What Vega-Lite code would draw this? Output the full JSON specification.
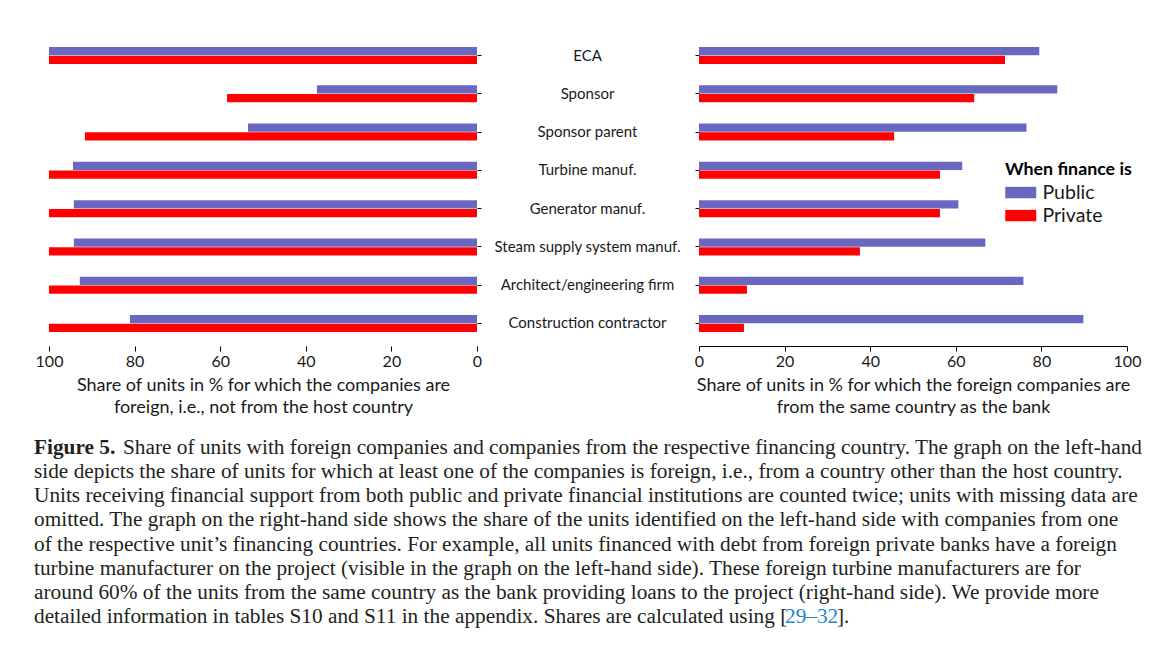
{
  "$schema": "https://vega.github.io/schema/vega-lite/v6.json",
  "padding": {"left": 34, "top": 33, "right": 5, "bottom": 5},
  "background": "white",
  "config": {
    "view": {"stroke": null},
    "font": "Lato",
    "axis": {"labelFont": "Lato", "titleFont": "Lato", "labelColor": "#1a1a1a", "titleColor": "#1a1a1a", "tickColor": "#000", "domainColor": "#000", "grid": false}
  },
  "datasets": {
    "bars": [
      {"role": "ECA", "finance": "Public", "foreign": 100, "same": 79.5},
      {"role": "ECA", "finance": "Private", "foreign": 100, "same": 71.5},
      {"role": "Sponsor", "finance": "Public", "foreign": 37.4, "same": 83.7},
      {"role": "Sponsor", "finance": "Private", "foreign": 58.4, "same": 64.3},
      {"role": "Sponsor parent", "finance": "Public", "foreign": 53.5, "same": 76.5},
      {"role": "Sponsor parent", "finance": "Private", "foreign": 91.6, "same": 45.6},
      {"role": "Turbine manuf.", "finance": "Public", "foreign": 94.4, "same": 61.5},
      {"role": "Turbine manuf.", "finance": "Private", "foreign": 100, "same": 56.3},
      {"role": "Generator manuf.", "finance": "Public", "foreign": 94.2, "same": 60.6},
      {"role": "Generator manuf.", "finance": "Private", "foreign": 100, "same": 56.3},
      {"role": "Steam supply system manuf.", "finance": "Public", "foreign": 94.2, "same": 66.9},
      {"role": "Steam supply system manuf.", "finance": "Private", "foreign": 100, "same": 37.6},
      {"role": "Architect/engineering firm", "finance": "Public", "foreign": 92.8, "same": 75.8},
      {"role": "Architect/engineering firm", "finance": "Private", "foreign": 100, "same": 11.2},
      {"role": "Construction contractor", "finance": "Public", "foreign": 81.1, "same": 89.8},
      {"role": "Construction contractor", "finance": "Private", "foreign": 100, "same": 10.5}
    ],
    "caption": [
      {"line": 1, "part": "bold", "text": "Figure 5."},
      {"line": 1, "part": "lead", "text": "Share of units with foreign companies and companies from the respective financing country. The graph on the left-hand"},
      {"line": 2, "part": "body", "text": "side depicts the share of units for which at least one of the companies is foreign, i.e., from a country other than the host country."},
      {"line": 3, "part": "body", "text": "Units receiving financial support from both public and private financial institutions are counted twice; units with missing data are"},
      {"line": 4, "part": "body", "text": "omitted. The graph on the right-hand side shows the share of the units identified on the left-hand side with companies from one"},
      {"line": 5, "part": "body", "text": "of the respective unit’s financing countries. For example, all units financed with debt from foreign private banks have a foreign"},
      {"line": 6, "part": "body", "text": "turbine manufacturer on the project (visible in the graph on the left-hand side). These foreign turbine manufacturers are for"},
      {"line": 7, "part": "body", "text": "around 60% of the units from the same country as the bank providing loans to the project (right-hand side). We provide more"},
      {"line": 8, "part": "body", "text": "detailed information in tables S10 and S11 in the appendix. Shares are calculated using ["},
      {"line": 8, "part": "link", "text": "29–32"},
      {"line": 8, "part": "end", "text": "]."}
    ]
  },
  "spacing": 403,
  "bounds": "flush",
  "vconcat": [
    {
      "spacing": 222,
      "bounds": "flush",
      "resolve": {"scale": {"color": "independent", "x": "independent", "y": "independent"}, "legend": {"color": "independent"}},
      "hconcat": [
        {
          "width": 428,
          "height": 313,
          "data": {"name": "bars"},
          "mark": {"type": "bar"},
          "encoding": {
            "y": {"field": "role", "type": "nominal", "sort": null,
              "scale": {"paddingInner": 0.556, "paddingOuter": 0.366},
              "axis": {"orient": "right", "title": null, "domain": false, "tickSize": 4, "labelAlign": "center", "labelPadding": 106, "labelFontSize": 15, "labelBaseline": "middle", "labelLimit": 0}},
            "yOffset": {"field": "finance", "type": "nominal", "sort": ["Public", "Private"], "scale": {"paddingInner": 0.06}},
            "x": {"field": "foreign", "type": "quantitative",
              "scale": {"domain": [0, 100], "reverse": true},
              "axis": {"values": [0, 20, 40, 60, 80, 100], "domain": false, "tickSize": 5, "labelFontSize": 16, "labelPadding": 2, "labelFlush": false,
                "title": ["Share of units in % for which the companies are", "foreign, i.e., not from the host country"],
                "titleFontSize": 18, "titleFontWeight": "normal", "titleLineHeight": 22, "titlePadding": 7}},
            "color": {"field": "finance", "type": "nominal", "scale": {"domain": ["Public", "Private"], "range": ["#6868C0", "#FF0000"]}, "legend": null}
          }
        },
        {
          "width": 428,
          "height": 313,
          "data": {"name": "bars"},
          "mark": {"type": "bar"},
          "encoding": {
            "y": {"field": "role", "type": "nominal", "sort": null,
              "scale": {"paddingInner": 0.556, "paddingOuter": 0.366},
              "axis": {"orient": "left", "title": null, "domain": false, "tickSize": 4, "labels": false}},
            "yOffset": {"field": "finance", "type": "nominal", "sort": ["Public", "Private"], "scale": {"paddingInner": 0.06}},
            "x": {"field": "same", "type": "quantitative",
              "scale": {"domain": [0, 100]},
              "axis": {"values": [0, 20, 40, 60, 80, 100], "domain": true, "tickSize": 5, "labelFontSize": 16, "labelPadding": 2, "labelFlush": false,
                "title": ["Share of units in % for which the foreign companies are", "from the same country as the bank"],
                "titleFontSize": 18, "titleFontWeight": "normal", "titleLineHeight": 22, "titlePadding": 7}},
            "color": {"field": "finance", "type": "nominal", "scale": {"domain": ["Public", "Private"], "range": ["#6868C0", "#FF0000"]},
              "legend": {"orient": "none", "legendX": 306, "legendY": 128, "title": "When finance is", "titleFont": "Lato", "titleFontSize": 17.8, "titleFontWeight": "bold", "titleColor": "#000", "titlePadding": 4,
                "labelFont": "Lato", "labelFontSize": 19.5, "labelColor": "#1a1a1a", "symbolType": "M-1.58,-0.95H3.58V0.95H-1.58Z", "symbolSize": 144, "symbolStrokeWidth": 0, "labelOffset": 18, "rowPadding": 2}}
          }
        }
      ]
    },
    {
      "width": 1100,
      "height": 193.1,
      "data": {"name": "caption"},
      "encoding": {
        "y": {"field": "line", "type": "ordinal", "axis": null, "scale": {"paddingInner": 0, "paddingOuter": 0}},
        "x": {"value": -15},
        "text": {"field": "text"}
      },
      "layer": [
        {"transform": [{"filter": "datum.part === 'bold'"}], "mark": {"type": "text", "align": "left", "baseline": "middle", "font": "Liberation Serif", "fontSize": 21.3, "fontWeight": "bold", "color": "#231f20"}},
        {"transform": [{"filter": "datum.part === 'lead'"}], "mark": {"type": "text", "align": "left", "baseline": "middle", "font": "Liberation Serif", "fontSize": 21.3, "color": "#231f20", "dx": 89}},
        {"transform": [{"filter": "datum.part === 'body'"}], "mark": {"type": "text", "align": "left", "baseline": "middle", "font": "Liberation Serif", "fontSize": 21.3, "color": "#231f20"}},
        {"transform": [{"filter": "datum.part === 'link'"}], "mark": {"type": "text", "align": "left", "baseline": "middle", "font": "Liberation Serif", "fontSize": 21.3, "color": "#1b8ac7", "dx": 751}},
        {"transform": [{"filter": "datum.part === 'end'"}], "mark": {"type": "text", "align": "left", "baseline": "middle", "font": "Liberation Serif", "fontSize": 21.3, "color": "#231f20", "dx": 803}}
      ]
    }
  ]
}
